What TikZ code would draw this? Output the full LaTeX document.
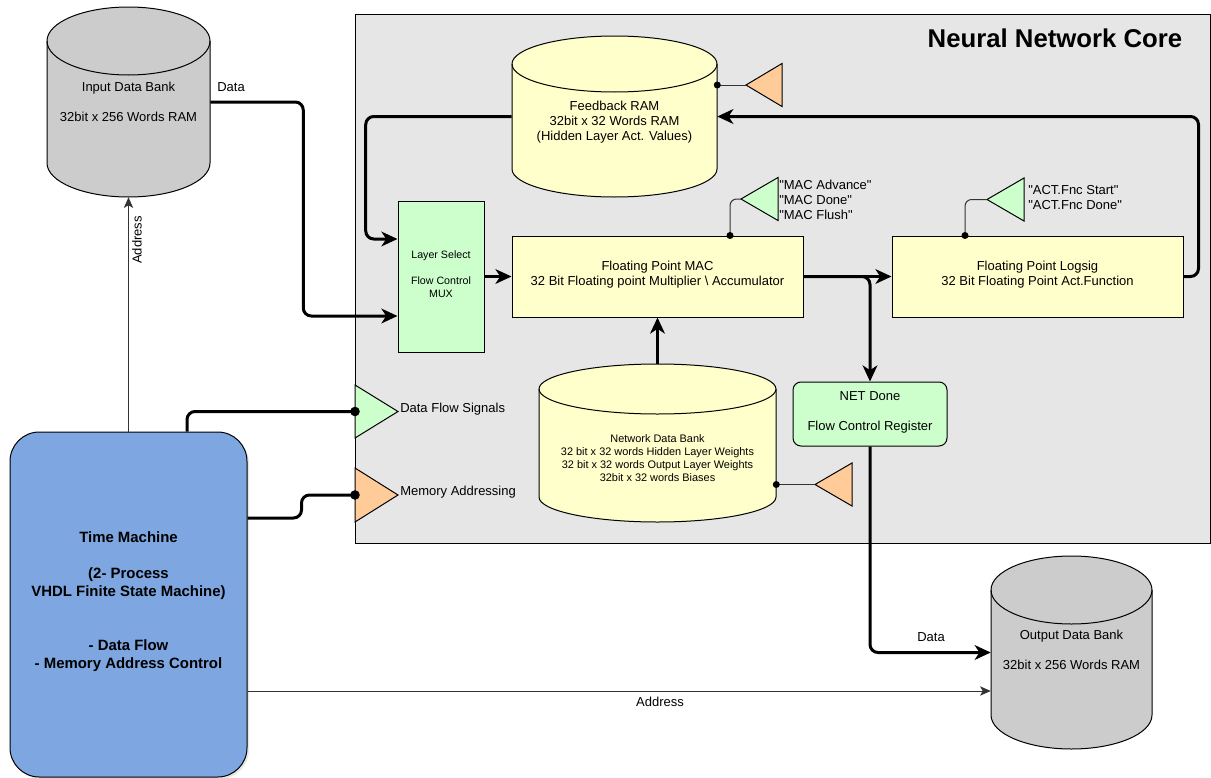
\documentclass[tikz,border=0pt]{standalone}
\usepackage{fontspec}
\setmainfont{Liberation Sans}
\usetikzlibrary{arrows.meta,fit,calc,shadows}
\definecolor{coregray}{HTML}{E6E6E6}
\definecolor{bankgray}{HTML}{CCCCCC}
\definecolor{ylw}{HTML}{FFFFCC}
\definecolor{grn}{HTML}{CCFFCC}
\definecolor{org}{HTML}{FFCC99}
\definecolor{tmblue}{HTML}{7EA6E0}
\newcommand{\drawcyl}[7]{%
  \pgfmathsetmacro\cylrx{(#4-#2)/2}%
  \pgfmathsetmacro\cylyt{#3+#6}%
  \pgfmathsetmacro\cylyb{#5-#6}%
  \draw[boxline, fill=#7] (#2,\cylyt) -- (#2,\cylyb)
     arc[start angle=180, end angle=0, x radius=\cylrx, y radius=#6]
     -- (#4,\cylyt)
     arc[start angle=0, end angle=-180, x radius=\cylrx, y radius=#6] -- cycle;
  \draw[boxline] (#2,\cylyt) arc[start angle=180, end angle=0, x radius=\cylrx, y radius=#6];
  \node[fit={(#2,#3)(#4,#5)}, inner sep=0pt] (#1) {};
}
\newcommand{\sigtri}[6]{%
  \coordinate (#1tip) at (#2,#3);
  \coordinate (#1base) at (#4,#3);
  \draw[boxline, fill=#6] (#2,#3) -- (#4,#3-#5) -- (#4,#3+#5) -- cycle;
}
\newcommand{\qq}{\textquotedbl}
\begin{document}
\begin{tikzpicture}[x=0.75pt,y=-0.75pt,
  boxline/.style={draw=black, line width=0.75pt},
  txt/.style={inner sep=0pt, font=\fontsize{9.75}{11.25}\selectfont, align=center},
  smalltxt/.style={inner sep=0pt, font=\fontsize{8.2}{9.75}\selectfont, align=center},
  lstxt/.style={inner sep=0pt, font=\fontsize{8}{9.75}\selectfont, align=center},
  bus/.style={line width=2.25pt, rounded corners=6pt},
  busarrow/.style={bus, -{Stealth[length=12pt, width=11pt, inset=3.5pt]}},
  sig/.style={draw=black!80, line width=0.75pt, rounded corners=5pt},
  sigarrow/.style={sig, -{Stealth[length=8pt, width=7pt, inset=2pt]}},
  bigdot/.style={fill=black},
]
\useasboundingbox (0,0) rectangle (1211,778);

% core frame
\node[fit={(355,14)(1210.5,543)}, inner sep=0pt, boxline, fill=coregray] (core) {};
\node[inner sep=0pt, font=\bfseries\fontsize{19.3}{23}\selectfont] (title) at (1055,38) {Neural Network Core};

% memories
\drawcyl{inbank}{47}{7}{210}{197}{34}{bankgray}
\node[txt] (inbanktxt) at (128.5,102) {Input Data Bank\\[11.25pt]32bit x 256 Words RAM};
\drawcyl{fbram}{512}{36}{717}{197}{28}{ylw}
\node[txt] (fbramtxt) at (614.5,122) {Feedback RAM\\32bit x 32 Words RAM\\(Hidden Layer Act. Values)};
\drawcyl{ndb}{539}{364}{776}{522}{25}{ylw}
\node[smalltxt] (ndbtxt) at (657.5,458) {Network Data Bank\\32 bit x 32 words Hidden Layer Weights\\32 bit x 32 words Output Layer Weights\\32bit x 32 words Biases};
\drawcyl{outbank}{991}{556}{1152}{749}{34}{bankgray}
\node[txt] (outbanktxt) at (1071.5,650) {Output Data Bank\\[11.25pt]32bit x 256 Words RAM};

% blocks
\node[fit={(398,201)(484,352)}, inner sep=0pt, boxline, fill=grn] (ls) {};
\node[lstxt] (lstxt) at (441,274.5) {Layer Select\\[9.75pt]Flow Control\\MUX};
\node[fit={(512,236)(803,317)}, inner sep=0pt, boxline, fill=ylw] (mac) {};
\node[txt] (mactxt) at (657.5,274.5) {Floating Point MAC\\32 Bit Floating point Multiplier \textbackslash{} Accumulator};
\node[fit={(892,236)(1183,317)}, inner sep=0pt, boxline, fill=ylw] (logsig) {};
\node[txt] (logsigtxt) at (1037.5,274.5) {Floating Point Logsig\\32 Bit Floating Point Act.Function};
\node[fit={(793,382)(947,446)}, inner sep=0pt, boxline, fill=grn, rounded corners=6pt] (netdone) {};
\node[txt] (netdonetxt) at (870,412) {NET Done\\[11.25pt]Flow Control Register};
\node[fit={(10,432)(247,777)}, inner sep=0pt, boxline, fill=tmblue, rounded corners=22pt,
      drop shadow={opacity=0.2, shadow xshift=1.5pt, shadow yshift=-1.5pt}] (tm) {};
\node[inner sep=0pt, align=center, font=\bfseries\fontsize{11.2}{13.5}\selectfont] (tmtxt) at (128.5,602)
  {Time Machine\\[13.5pt](2- Process\\VHDL Finite State Machine)\\[27pt]- Data Flow\\- Memory Address Control};

% signal triangles
\sigtri{fbtri}{746}{85}{782}{21.5}{org}
\sigtri{mactri}{741}{199}{778}{21.5}{grn}
\sigtri{acttri}{987}{199.5}{1024}{21.5}{grn}
\sigtri{ndbtri}{815}{484.5}{852}{21.5}{org}
\sigtri{dftri}{398}{411.5}{355}{26.5}{grn}
\sigtri{matri}{398}{495}{355}{27}{org}

% signal labels
\node[txt, anchor=west, align=left] (maclbl) at (779,200) {\qq MAC Advance\qq\\\qq MAC Done\qq\\\qq MAC Flush\qq};
\node[txt, anchor=west, align=left] (actlbl) at (1028,197.5) {\qq ACT.Fnc Start\qq\\\qq ACT.Fnc Done\qq};
\node[txt, anchor=west] (dflbl) at (400,409) {Data Flow Signals};
\node[txt, anchor=west] (malbl) at (400,492) {Memory Addressing};

% data buses
\draw[busarrow] (inbank.east) -- ++(93,0) |- ($(ls.west)+(0,39.5)$);
\draw[busarrow] (fbram.west) -- ++(-146,0) |- ($(ls.west)+(0,-37.5)$);
\draw[busarrow] (logsig.east) -- ++(15,0) |- (fbram.east);
\draw[busarrow] (ls.east) -- (mac.west);
\draw[busarrow] (mac.east) -- (logsig.west);
\draw[busarrow] (mac.east) -| (netdone.north);
\draw[busarrow] (ndb.north) -- (mac.south);
\draw[busarrow] (netdone.south) |- (outbank.west);
\node[txt] (datalbl1) at (231,87) {Data};
\node[txt] (datalbl2) at (931,637) {Data};

% address lines
\draw[sigarrow] (tm.north) -- (inbank.south);
\node[txt, rotate=90] (addrlbl1) at (137,240) {Address};
\draw[sigarrow] ($(tm.east)+(0,86.5)$) coordinate (addrstart) -- (addrstart -| outbank.west);
\node[txt] (addrlbl2) at (660,702) {Address};

% time machine control buses
\draw[bus] ($(tm.north)+(58.5,0)$) |- (dftribase);
\fill[bigdot] (dftribase) circle[radius=4.8];
\draw[bus] ($(tm.east)+(0,-86.5)$) -- ++(54,0) |- (matribase);
\fill[bigdot] (matribase) circle[radius=4.8];

% control signal lines
\draw[sig] (fbtritip) -- (fbtritip -| fbram.east) coordinate (fbdot);
\fill[bigdot] (fbdot) circle[radius=3.5];
\draw[sig] (mactritip) -| ($(mac.north)+(72.5,0)$) coordinate (macdot);
\fill[bigdot] (macdot) circle[radius=3.5];
\draw[sig] (acttritip) -| ($(logsig.north)+(-72.5,0)$) coordinate (actdot);
\fill[bigdot] (actdot) circle[radius=3.5];
\draw[sig] (ndbtritip) -- (ndbtritip -| ndb.east) coordinate (ndbdot);
\fill[bigdot] (ndbdot) circle[radius=3.5];
\end{tikzpicture}
\end{document}
